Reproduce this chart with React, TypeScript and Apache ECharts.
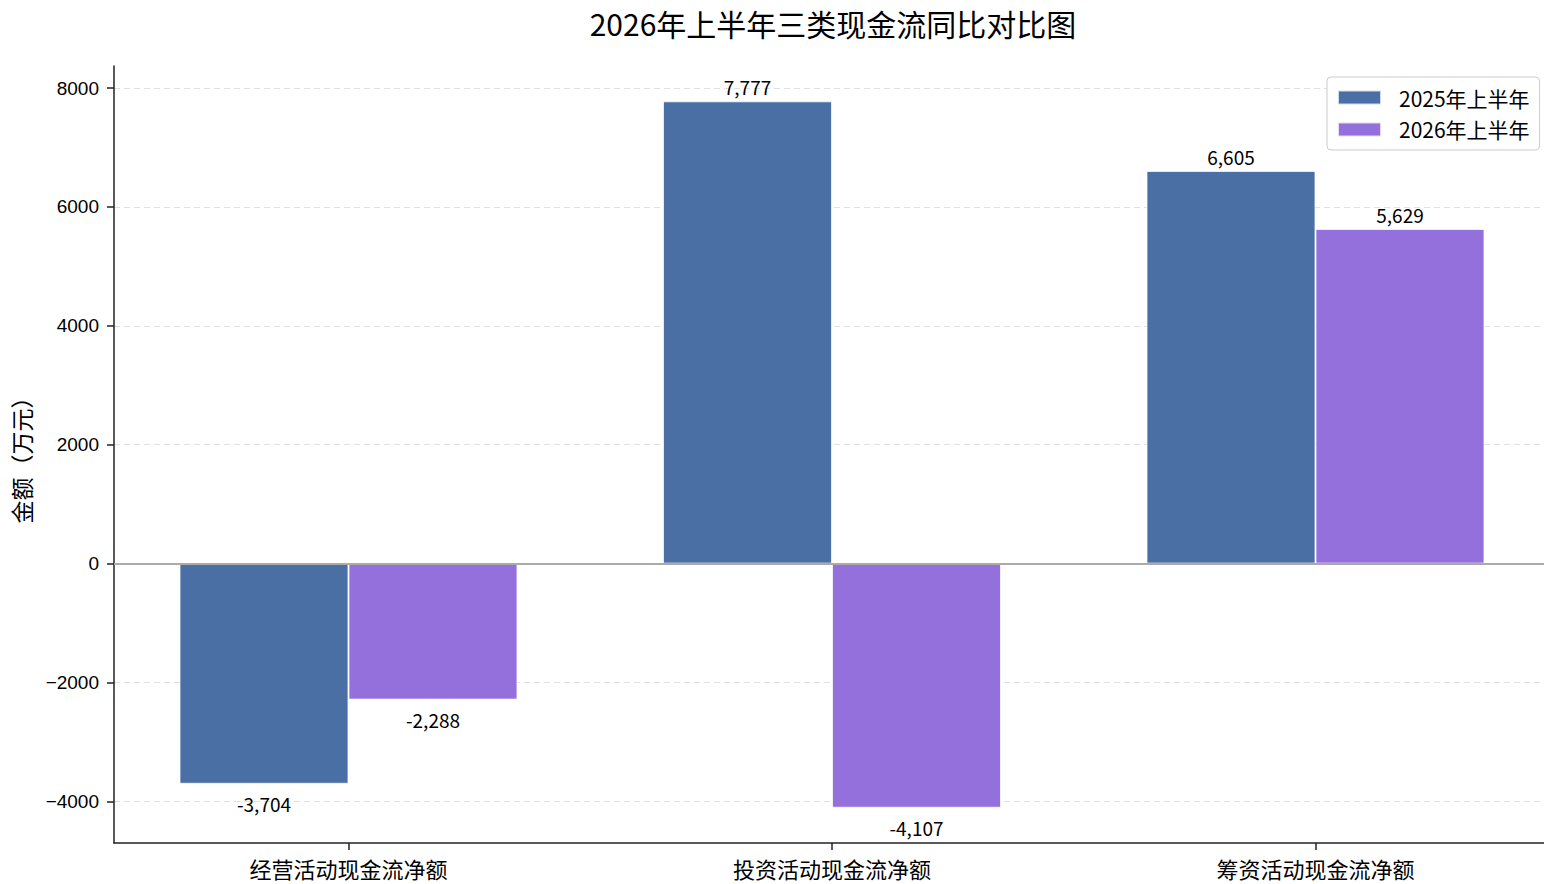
import React, { useEffect, useRef } from "react";
import * as echarts from "echarts";

const categories = ["经营活动现金流净额", "投资活动现金流净额", "筹资活动现金流净额"];
const seriesNames = ["2025年上半年", "2026年上半年"];
const values2025 = [-3704, 7777, 6605];
const values2026 = [-2288, -4107, 5629];
const yTicks = [-4000, -2000, 0, 2000, 4000, 6000, 8000];
const colors = ["#4a6fa5", "#9370db"];

const CJK = "'Noto Sans CJK SC', 'Noto Sans', sans-serif";
const LAT = "'Liberation Sans', Arial, sans-serif";

function fmt(v: number) {
  return (v < 0 ? "-" : "") + Math.abs(v).toLocaleString("en-US");
}

function buildData(vals: number[]) {
  return vals.map((v, i) => ({
    value: [i, v],
    label: {
      position: v >= 0 ? "top" : "bottom",
      distance: v >= 0 ? 5 : 10,
    },
  }));
}

export default function App() {
  const ref = useRef<HTMLDivElement>(null);
  useEffect(() => {
    if (!ref.current) return;
    const chart = echarts.init(ref.current, undefined, { renderer: "svg" });
    const labelCommon = {
      show: true,
      fontFamily: CJK,
      fontSize: 19,
      color: "#000",
      formatter: (p: any) => fmt(p.value[1]),
    };
    chart.setOption({
      animation: false,
      backgroundColor: "#ffffff",
      title: {
        text: "2026年上半年三类现金流同比对比图",
        left: 828,
        top: 3,
        textAlign: "center",
        textStyle: { fontFamily: CJK, fontSize: 30, fontWeight: "normal", color: "#000" },
      },
      legend: {
        orient: "vertical",
        left: 1327,
        top: 77,
        padding: [10, 10, 10, 10],
        itemWidth: 43,
        itemHeight: 14,
        itemGap: 11,
        icon: "rect",
        borderColor: "#cccccc",
        borderWidth: 1,
        borderRadius: 4,
        backgroundColor: "#ffffff",
        textStyle: { fontFamily: CJK, fontSize: 21, color: "#000", lineHeight: 20, padding: [0, 0, 0, 13] },
        data: seriesNames,
      },
      grid: { left: 114, top: 66, right: 0, height: 777, containLabel: false },
      xAxis: {
        type: "value",
        min: -0.485,
        max: 2.4726,
        axisLine: { show: true, onZero: false, lineStyle: { color: "#222", width: 1.5 } },
        axisTick: { show: true, length: 7, lineStyle: { color: "#222", width: 1.5 }, customValues: [0, 1, 2] },
        axisLabel: {
          customValues: [0, 1, 2],
          margin: 14,
          fontFamily: CJK,
          fontSize: 22,
          lineHeight: 22,
          color: "#000",
          formatter: (v: number) => categories[Math.round(v)] ?? "",
        },
        splitLine: { show: false },
      },
      yAxis: {
        type: "value",
        min: -4700,
        max: 8371,
        name: "金额（万元）",
        nameLocation: "middle",
        nameRotate: 90,
        nameGap: 82,
        nameTextStyle: { fontFamily: CJK, fontSize: 23, color: "#000" },
        axisLine: { show: true, onZero: false, lineStyle: { color: "#222", width: 1.5 } },
        axisTick: { show: true, length: 7, lineStyle: { color: "#222", width: 1.5 }, customValues: yTicks },
        axisLabel: {
          customValues: yTicks,
          margin: 15,
          fontFamily: LAT,
          fontSize: 19,
          color: "#000",
          formatter: (v: number) => String(v).replace("-", "\u2212"),
        },
        splitLine: { show: true, lineStyle: { color: "#e0e0e0", width: 1, type: [6, 4] } },
      },
      series: [
        {
          name: seriesNames[0],
          type: "bar",
          barWidth: 169,
          barGap: "0%",
          itemStyle: { color: colors[0], borderColor: "rgba(255,255,255,0.75)", borderWidth: 1 },
          label: labelCommon,
          data: buildData(values2025),
          markLine: {
            silent: true,
            symbol: ["none", "none"],
            label: { show: false },
            lineStyle: { color: "#aaaaaa", width: 2, type: "solid" },
            data: [{ yAxis: 0 }],
          },
        },
        {
          name: seriesNames[1],
          type: "bar",
          barWidth: 169,
          barGap: "0%",
          itemStyle: { color: colors[1], borderColor: "rgba(255,255,255,0.75)", borderWidth: 1 },
          label: labelCommon,
          data: buildData(values2026),
        },
      ],
    });
    return () => chart.dispose();
  }, []);
  return (
    <div
      ref={ref}
      style={{ position: "fixed", left: 0, top: 0, width: 1544, height: 884, background: "#fff" }}
    />
  );
}
